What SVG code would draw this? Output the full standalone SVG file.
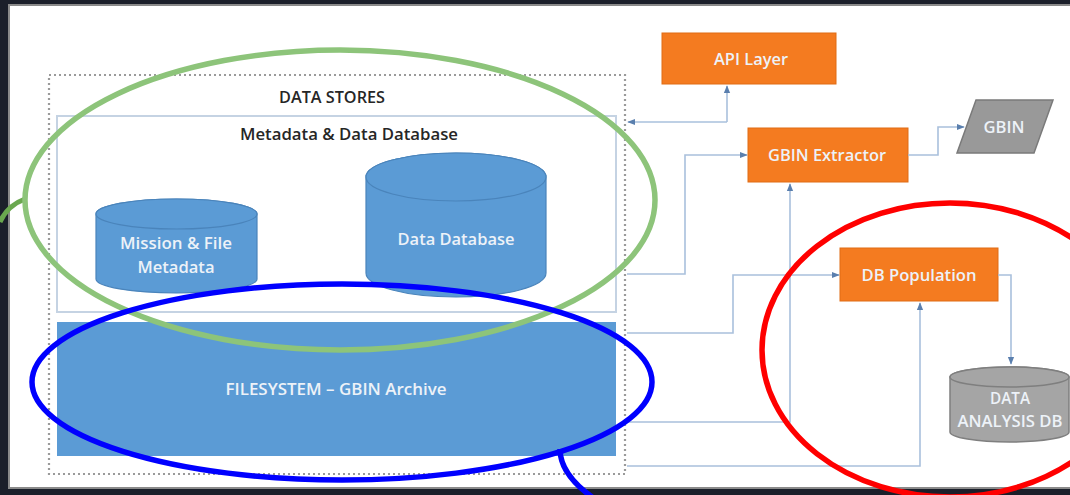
<svg xmlns="http://www.w3.org/2000/svg" width="1070" height="495" viewBox="0 0 1070 495">
<style>
.lbl{font-family:"Open Sans","Liberation Sans",sans-serif;font-size:16px;font-weight:600;fill:#edf2f8;text-anchor:middle;dominant-baseline:central}
.dark{fill:#262626}
.box{fill:#f47b20;stroke:#e06c14;stroke-width:1}
.blue{fill:#5b9bd5;stroke:#4a84bb;stroke-width:1.2}
.grey{fill:#a5a5a5;stroke:#7f7f7f;stroke-width:1.5}
.conn{fill:none;stroke:#a9c0dc;stroke-width:1.6}
.ann{fill:none;stroke-width:5.5}
</style>
<defs>
<marker id="arr" viewBox="0 0 10 10" refX="9" refY="5" markerWidth="5" markerHeight="5" orient="auto">
<path d="M0,1 L10,5 L0,9 Z" fill="#5a7fae"/>
</marker>
</defs>
<rect x="0" y="0" width="1070" height="495" fill="#1b1f2a"/>
<rect x="9" y="5" width="1070" height="483" fill="#ffffff" stroke="#8a8a8a" stroke-width="2"/>

<g id="data-stores">
<rect x="49" y="75" width="576" height="399" fill="none" stroke="#9a9a9a" stroke-width="2.2" stroke-dasharray="2,3"/>
<text class="lbl dark" x="332" y="97" font-size="15" textLength="106" lengthAdjust="spacingAndGlyphs">DATA STORES</text>
</g>
<g id="metadata-db">
<rect x="57" y="116" width="559" height="196" fill="#ffffff" stroke="#c5d3e3" stroke-width="2"/>
<text class="lbl dark" x="349" y="134" textLength="218" lengthAdjust="spacingAndGlyphs">Metadata &amp; Data Database</text>
</g>
<g id="mission-file-metadata">
<path class="blue" d="M96,214 A80.5,15 0 0 1 257,214 V279 A80.5,14 0 0 1 96,279 Z"/>
<ellipse class="blue" cx="176.5" cy="214" rx="80.5" ry="15"/>
<text class="lbl" x="176" y="243" textLength="112" lengthAdjust="spacingAndGlyphs">Mission &amp; File</text>
<text class="lbl" x="176" y="267" textLength="77" lengthAdjust="spacingAndGlyphs">Metadata</text>
</g>
<g id="data-database">
<path class="blue" d="M366,177 A90,24 0 0 1 546,177 V273 A90,24 0 0 1 366,273 Z"/>
<ellipse class="blue" cx="456" cy="177" rx="90" ry="24"/>
<text class="lbl" x="456" y="239" textLength="117" lengthAdjust="spacingAndGlyphs">Data Database</text>
</g>
<g id="filesystem">
<rect x="57" y="322" width="559" height="134" fill="#5b9bd5"/>
<text class="lbl" x="336" y="389" textLength="221" lengthAdjust="spacingAndGlyphs">FILESYSTEM – GBIN Archive</text>
</g>
<g id="api-layer">
<rect class="box" x="662" y="33" width="174" height="51"/>
<text class="lbl" x="751" y="59" textLength="74" lengthAdjust="spacingAndGlyphs">API Layer</text>
</g>
<g id="gbin-extractor">
<rect class="box" x="748" y="128" width="160" height="54"/>
<text class="lbl" x="827" y="155" textLength="118" lengthAdjust="spacingAndGlyphs">GBIN Extractor</text>
</g>
<g id="gbin">
<polygon points="976,100 1053,100 1034,153 957,153" fill="#999999" stroke="#7a7a7a" stroke-width="1.5"/>
<text class="lbl" x="1004" y="127" textLength="41" lengthAdjust="spacingAndGlyphs">GBIN</text>
</g>
<g id="db-population">
<rect class="box" x="840" y="248" width="158" height="53"/>
<text class="lbl" x="919" y="275" textLength="115" lengthAdjust="spacingAndGlyphs">DB Population</text>
</g>
<g id="data-analysis-db">
<path class="grey" d="M950,377 A59.5,10 0 0 1 1069,377 V432 A59.5,10 0 0 1 950,432 Z"/>
<ellipse class="grey" cx="1009.5" cy="377" rx="59.5" ry="10"/>
<text class="lbl" x="1010" y="398" textLength="40" lengthAdjust="spacingAndGlyphs">DATA</text>
<text class="lbl" x="1010" y="421" textLength="105" lengthAdjust="spacingAndGlyphs">ANALYSIS DB</text>
</g>

<g id="connectors">
<path class="conn" d="M727,122 V86" marker-end="url(#arr)"/>
<path class="conn" d="M727,122 H628" marker-end="url(#arr)"/>
<path class="conn" d="M627,274 H685 V155 H747" marker-end="url(#arr)"/>
<path class="conn" d="M627,333 H733 V275 H839" marker-end="url(#arr)"/>
<path class="conn" d="M627,422 H790 V184" marker-end="url(#arr)"/>
<path class="conn" d="M627,466 H920 V303" marker-end="url(#arr)"/>
<path class="conn" d="M908,155 H938 V127 H964" marker-end="url(#arr)"/>
<path class="conn" d="M998,275 H1011 V364" marker-end="url(#arr)"/>
</g>

<g id="annotations">
<path d="M25,199 C14,203 5,211 0,222" fill="none" stroke="#6aa84f" stroke-width="5"/>
<ellipse class="ann" cx="340" cy="200" rx="315" ry="150" stroke="#8dc47a"/>
<ellipse class="ann" cx="342" cy="382" rx="310" ry="98" stroke="#0000ff"/>
<path d="M560,449 C560,468 574,484 592,497" fill="none" stroke="#0000ff" stroke-width="5.5"/>
<ellipse class="ann" cx="950" cy="350" rx="188" ry="147" stroke="#ff0000"/>
</g>
</svg>
